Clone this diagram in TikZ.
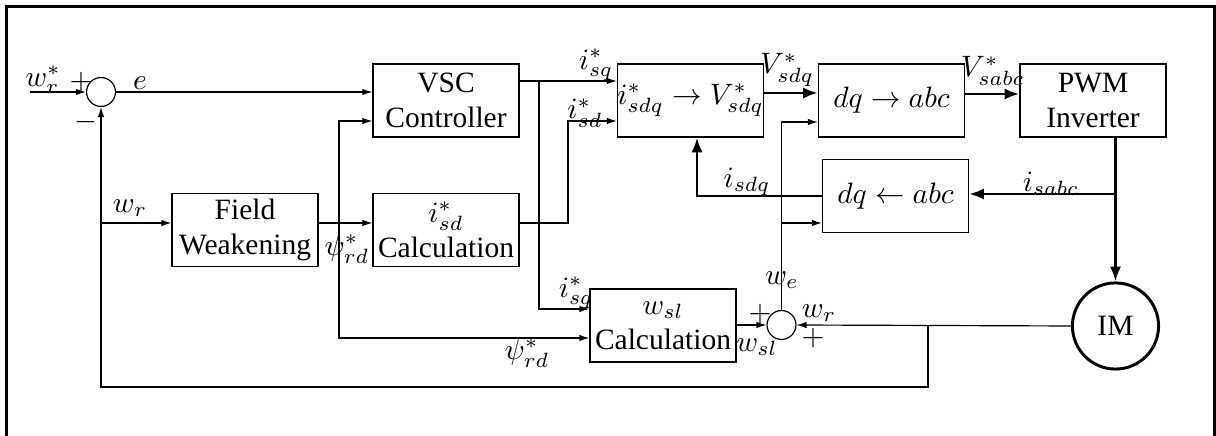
\documentclass[tikz,border=0pt]{standalone}
\usepackage{fontspec}
\setmainfont{Liberation Serif}
\usetikzlibrary{arrows.meta}

\tikzset{
  block/.style={draw, minimum width=49.5pt, minimum height=24.7pt, inner sep=0pt, align=center},
  junc/.style={draw, circle, minimum size=9.8pt, inner sep=0pt},
  sig/.style={-{Latex[length=3.4pt,width=2.2pt]}},
  power/.style={line width=1pt, -{Latex[length=5pt,width=3.8pt]}},
  lbl/.style={inner sep=0pt}
}

\begin{document}
\begin{tikzpicture}[x=0.339pt, y=-0.339pt]
  \useasboundingbox (0,0) rectangle (1216,436);
  % Frame
  \draw[line width=0.7pt] (6.5,436) -- (6.5,6.5) -- (1214.5,6.5) -- (1214.5,436);

  % Blocks
  \node[junc] (s1) at (101,92) {};
  \node[block] (vsc) at (446,100.5) {VSC\\Controller};
  \node[block] (fw) at (245,230) {Field\\Weakening};
  \node[block] (isdc) at (446,230) {$i^*_{sd}$\\Calculation};
  \node[block] (conv) at (690.5,100.5) {$i^*_{sdq}\rightarrow V^*_{sdq}$};
  \node[block] (dqabc) at (891.5,100.5) {$dq\rightarrow abc$};
  \node[block] (pwm) at (1093,100.5) {PWM\\Inverter};
  \node[block] (abcdq) at (895.5,196) {$dq\leftarrow abc$};
  \node[block] (wslc) at (663,325.5) {$w_{sl}$\\Calculation};
  \node[junc] (s2) at (781.5,325) {};
  \node[draw, circle, line width=1pt, minimum size=29.2pt, inner sep=0pt] (im) at (1115.5,326) {IM};

  % Speed loop
  \coordinate (in) at (30,92);
  \draw[sig] (in) -- (s1.west);
  \draw[sig] (s1.east) -- (vsc.west |- s1);
  \coordinate (tap) at (928,326);
  \draw[sig] (tap) |- (101,387) -- (s1.south);
  \coordinate (wrtap) at (101,223);
  \draw[sig] (wrtap) -- (fw.west |- wrtap);
  \draw[sig] (fw.east |- wrtap) -- (isdc.west |- wrtap);

  % psi_rd^* branch
  \coordinate (psi) at (339,223);
  \draw[sig] (psi) |- (vsc.west |- 0,121);
  \draw[sig] (psi) |- (wslc.west |- 0,338);

  % Current references
  \draw[sig] (isdc.east |- 0,223) -| (568,121) -- (conv.west |- 0,121);
  \draw[sig] (vsc.east |- 0,81) -- (conv.west |- 0,81);
  \coordinate (isq) at (539,81);
  \draw[sig] (isq) |- (wslc.west |- 0,309);

  % Voltage path
  \draw[power] (conv.east |- 0,93) -- (dqabc.west |- 0,93);
  \draw[power] (dqabc.east |- 0,94) -- (pwm.west |- 0,94);
  \draw[power] (im.north |- pwm.south) -- (im.north);
  \coordinate (isabc) at (im.north |- 0,194);
  \draw[power] (isabc) -- (abcdq.east |- isabc);
  \draw[power] (abcdq.west) -| (697,0 |- conv.south);

  % Slip and angle
  \draw[sig] (s2.north) |- (dqabc.west |- 0,122);
  \draw[sig] (s2.north |- 0,223) -- (abcdq.west |- 0,223);
  \draw[sig] (wslc.east |- s2) -- (s2.west);
  \draw[sig] (im.west) -- (s2.east);

  % Labels
  \node[lbl] (l-wrs) at (43,80) {$w_r^*$};
  \node[lbl] (l-p1) at (81,82) {$+$};
  \node[lbl] (l-m1) at (86,122) {$-$};
  \node[lbl] (l-e) at (140,83) {$e$};
  \node[lbl] (l-wr1) at (130,208) {$w_r$};
  \node[lbl] (l-psi1) at (347,249) {$\psi^*_{rd}$};
  \node[lbl] (l-isq1) at (596,65) {$i^*_{sq}$};
  \node[lbl] (l-isd1) at (585,113) {$i^*_{sd}$};
  \node[lbl] (l-vsdq) at (787,70) {$V^*_{sdq}$};
  \node[lbl] (l-vsabc) at (993,71) {$V^*_{sabc}$};
  \node[lbl] (l-isabc) at (1051,184) {$i_{sabc}$};
  \node[lbl] (l-isdq) at (747,182) {$i_{sdq}$};
  \node[lbl] (l-we) at (782,280) {$w_e$};
  \node[lbl] (l-wr2) at (819,313) {$w_r$};
  \node[lbl] (l-p2) at (813,338) {$+$};
  \node[lbl] (l-p3) at (760,314) {$+$};
  \node[lbl] (l-wsl) at (757,347) {$w_{sl}$};
  \node[lbl] (l-isq2) at (576,293) {$i^*_{sq}$};
  \node[lbl] (l-psi2) at (527,353) {$\psi^*_{rd}$};
\end{tikzpicture}
\end{document}
